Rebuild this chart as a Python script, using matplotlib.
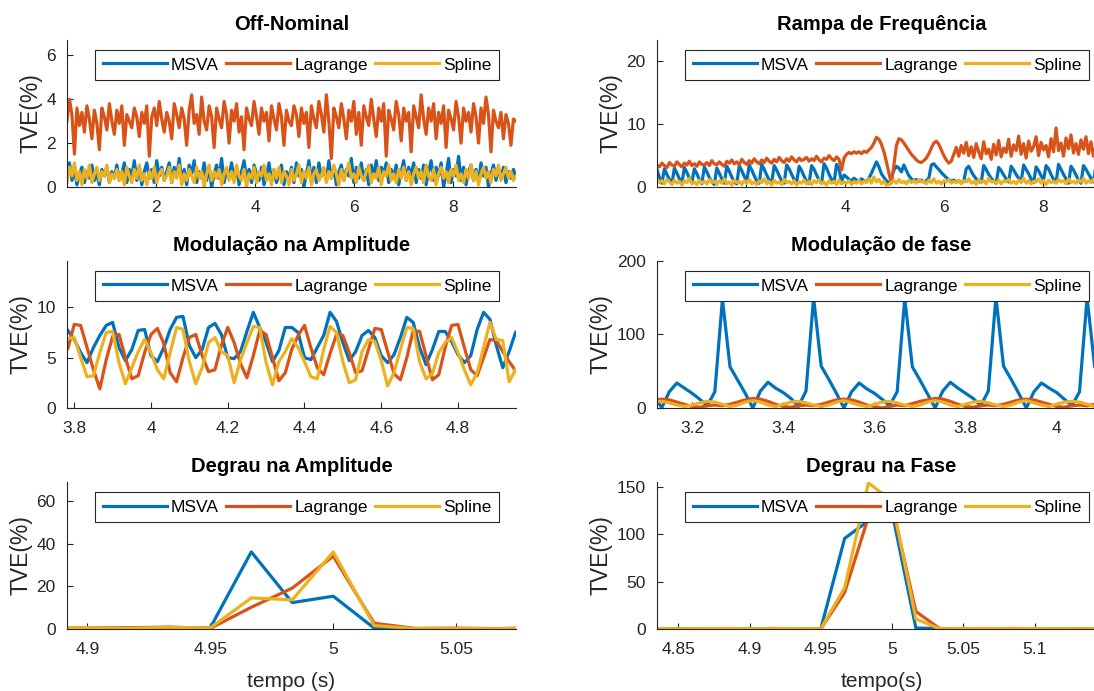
import numpy as np
import matplotlib
matplotlib.use('Agg')
import matplotlib.pyplot as plt
from matplotlib.ticker import FuncFormatter

plt.rcParams['font.family'] = ['Liberation Sans', 'DejaVu Sans']

# cores padrao do MATLAB
c_msva = '#0072BD'
c_lagr = '#D95319'
c_spl = '#EDB120'
names = ['MSVA', 'Lagrange', 'Spline']

# ---------------- Off-Nominal (0.2 .. 9.27 s) ----------------
on_t0, on_t1 = 0.2, 9.27
lagr_on = [3.0, 4.0, 3.3, 1.5, 3.6, 2.8, 3.4, 2.5, 3.7, 3.1, 2.2, 3.5, 2.9, 1.7, 3.6, 3.2, 2.6, 3.8, 3.0, 2.4,
           3.5, 2.9, 3.7, 1.9, 3.3, 3.0, 2.7, 3.6, 3.2, 2.3, 3.4, 2.9, 3.7, 1.4, 3.2, 3.6, 2.8, 3.9, 3.1, 2.5,
           3.4, 3.0, 2.2, 3.8, 3.3, 2.7, 3.6, 3.1, 1.9, 3.5, 4.2, 2.9, 3.3, 2.4, 4.1, 3.0, 2.6, 3.7, 3.2, 1.8,
           3.6, 3.1, 2.7, 3.9, 3.3, 2.0, 3.5, 3.0, 3.8, 2.5, 3.2, 1.7, 3.6, 3.1, 2.8, 3.9, 3.2, 2.4, 3.6, 3.0,
           3.4, 2.1, 3.7, 3.1, 2.6, 3.8, 3.2, 1.9, 3.5, 3.0, 2.8, 3.7, 3.3, 2.3, 3.6, 2.9, 3.4, 1.8, 3.7, 3.1,
           2.7, 3.9, 3.3, 2.5, 4.2, 3.0, 1.3, 3.6, 3.2, 2.7, 3.8, 3.1, 2.2, 3.5, 3.0, 3.9, 2.4, 3.4, 1.9, 3.7,
           3.2, 2.8, 4.0, 3.1, 2.3, 3.6, 3.0, 3.8, 1.4, 3.5, 3.1, 2.6, 3.9, 3.3, 2.1, 3.6, 3.0, 3.4, 1.6, 3.7,
           3.2, 2.7, 4.2, 3.1, 2.4, 3.6, 3.0, 3.8, 2.2, 3.4, 2.9, 3.7, 1.8, 3.5, 3.1, 2.6, 3.9, 3.2, 2.0, 3.6,
           3.0, 3.4, 2.5, 3.8, 3.2, 2.0, 3.6, 2.9, 4.1, 3.3, 1.6, 3.5, 3.0, 2.7, 3.4, 2.2, 3.3, 2.9, 1.9, 3.1, 3.0]
msva_on = [0.4, 1.1, 0.3, 0.8, 0.1, 0.6, 0.9, 0.2, 0.7, 0.4, 1.0, 0.3, 0.6, 0.1, 0.8, 0.5, 0.9, 0.2, 0.7, 0.4,
           1.0, 0.3, 0.6, 1.1, 0.2, 0.8, 0.5, 1.2, 0.3, 0.9, 0.1, 0.7, 1.1, 0.4, 0.8, 0.2, 1.2, 0.5, 0.9, 0.3,
           0.7, 1.1, 0.2, 0.9, 0.5, 1.3, 0.3, 0.8, 0.1, 1.0, 0.6, 1.2, 0.2, 0.7, 0.4, 1.1, 0.3, 0.9, 0.0, 0.6,
           1.0, 0.4, 1.3, 0.2, 0.8, 0.5, 1.1, 0.3, 0.9, 0.1, 0.7, 1.2, 0.4, 0.8, 0.2, 1.0, 0.6, 0.3, 0.9, 0.1,
           0.5, 1.1, 0.3, 0.8, 0.2, 0.6, 1.0, 0.1, 0.7, 0.4, 0.9, 0.2, 1.1, 0.5, 0.8, 0.0, 0.6, 1.2, 0.3, 0.9,
           0.2, 1.1, 0.5, 0.8, 0.3, 1.2, 0.4, 0.9, 0.1, 0.7, 1.0, 0.3, 0.8, 0.5, 1.3, 0.2, 0.9, 0.4, 1.1, 0.3,
           0.8, 0.1, 1.0, 0.5, 1.2, 0.3, 0.9, 0.6, 1.1, 0.2, 0.8, 0.4, 1.0, 0.1, 0.7, 1.2, 0.3, 0.9, 0.5, 1.1,
           0.2, 0.8, 0.4, 1.0, 0.1, 0.7, 1.2, 0.3, 0.9, 0.5, 1.1, 0.0, 0.6, 1.3, 0.2, 0.8, 0.5, 1.4, 0.3, 0.9,
           0.1, 0.7, 1.0, 0.3, 0.8, 0.2, 1.1, 0.5, 0.9, 0.0, 0.6, 1.0, 0.3, 0.8, 0.4, 0.9, 0.2, 0.7, 0.4, 0.8, 0.5]
spl_on = [0.2, 0.9, 0.5, 1.1, 0.3, 0.7, 0.1, 0.8, 0.4, 1.0, 0.2, 0.6, 0.9, 0.3, 0.7, 0.5, 1.0, 0.2, 0.6, 0.4,
          0.8, 0.3, 0.7, 0.1, 0.9, 0.5, 0.2, 0.8, 0.4, 1.0, 0.3, 0.6, 0.1, 0.7, 0.4, 0.9, 0.2, 0.6, 0.8, 0.3,
          0.5, 0.9, 0.2, 0.7, 0.4, 1.0, 0.1, 0.6, 0.3, 0.8, 0.5, 0.2, 0.9, 0.4, 0.7, 0.0, 0.6, 1.0, 0.3, 0.7,
          0.4, 0.8, 0.1, 0.6, 0.9, 0.3, 0.7, 0.2, 1.0, 0.5, 0.3, 0.8, 0.0, 0.6, 0.4, 0.9, 0.2, 0.7, 0.5, 1.0,
          0.3, 0.6, 0.1, 0.8, 0.4, 0.9, 0.2, 0.7, 0.5, 0.1, 0.8, 0.3, 0.6, 1.0, 0.2, 0.7, 0.4, 0.9, 0.1, 0.6,
          0.8, 0.3, 0.5, 0.9, 0.2, 0.7, 0.4, 1.0, 0.6, 0.1, 0.8, 0.3, 0.7, 1.1, 0.4, 0.6, 0.2, 0.9, 0.5, 0.3,
          0.7, 1.0, 0.2, 0.6, 0.4, 0.9, 0.1, 0.7, 0.5, 1.0, 0.3, 0.6, 0.2, 0.8, 0.4, 0.9, 0.3, 0.7, 0.1, 0.6,
          0.9, 0.4, 0.7, 0.2, 1.0, 0.5, 0.3, 0.8, 0.1, 0.6, 0.9, 0.4, 0.7, 0.2, 0.8, 0.5, 1.0, 0.3, 0.6, 0.2,
          0.8, 0.4, 1.0, 0.3, 0.7, 0.1, 0.6, 0.9, 0.4, 0.7, 0.2, 0.8, 0.5, 1.0, 0.3, 0.6, 0.9, 0.4, 0.7, 0.3, 0.5]

# ---------------- Rampa de Frequencia ----------------
lagr_rf = [3.5, 3.2, 3.8, 3.4, 3.1, 3.9, 3.5, 3.3, 4.0, 3.6, 3.2, 3.8, 3.5, 4.1, 3.4, 3.7, 3.3, 4.0, 3.6, 3.5,
           3.9, 3.4, 4.2, 3.7, 3.5, 4.0, 3.6, 3.3, 4.1, 3.8, 4.3, 3.7, 4.0, 3.5, 4.4, 3.9, 3.6, 4.2, 3.8, 4.5,
           4.0, 3.7, 4.3, 3.9, 4.6, 4.1, 3.8, 4.4, 4.0, 4.7, 4.2, 3.9, 4.5, 4.1, 4.8, 4.3, 4.0, 4.6, 4.2, 4.4,
           4.7, 4.1, 4.5, 4.2, 4.9, 4.3, 4.0, 4.6, 4.4, 5.0, 4.5, 4.2, 4.8, 4.4, 2.7, 4.6, 5.2, 5.5, 5.3, 5.6,
           5.4, 5.6, 5.3, 5.7, 5.5, 5.9, 6.3, 7.0, 7.9, 7.6, 6.8, 5.6, 4.0, 2.2, 0.6, 3.5, 6.6, 7.7, 7.5, 7.0,
           6.4, 5.8, 5.2, 4.8, 4.3, 4.0, 3.9, 4.2, 4.6, 5.3, 6.2, 7.0, 7.3, 6.8, 5.9, 5.0, 4.3, 3.8, 4.1, 5.2,
           6.3, 4.9, 6.6, 5.4, 7.1, 5.0, 6.4, 4.7, 6.9, 5.6, 4.5, 7.2, 5.3, 6.0, 4.4, 6.8, 5.1, 7.4, 4.8, 6.2,
           5.5, 7.6, 4.9, 6.7, 5.8, 8.1, 5.2, 6.9, 4.6, 7.3, 5.7, 6.4, 8.0, 5.0, 7.1, 5.9, 6.6, 4.8, 7.7, 5.6,
           9.4, 5.8, 7.0, 4.9, 7.8, 6.1, 8.3, 5.4, 6.9, 5.2, 7.5, 6.0, 8.0, 5.3, 7.2, 4.9, 6.5, 7.9, 5.8, 6.8, 6.0]
msva_rf = [2.8, 1.5, 0.6, 2.9, 2.0, 1.2, 0.5, 3.0, 2.2, 1.3, 0.6, 3.1, 2.3, 1.4, 0.7, 2.9, 2.1, 1.2, 0.5, 3.2,
           2.4, 1.5, 0.8, 0.4, 3.0, 2.2, 1.3, 0.6, 3.3, 2.5, 1.6, 0.8, 0.5, 3.4, 2.6, 1.7, 0.9, 3.5, 2.7, 1.8,
           1.0, 0.6, 3.6, 2.8, 1.9, 1.1, 0.7, 3.4, 2.7, 1.8, 1.0, 0.6, 3.5, 2.9, 2.0, 1.2, 0.7, 3.3, 2.6, 1.7,
           0.9, 0.6, 3.4, 2.8, 1.9, 1.1, 0.6, 3.7, 3.0, 2.0, 1.2, 0.7, 3.6, 2.8, 0.9, 1.9, 1.6, 1.2, 1.0, 1.4,
           1.1, 0.9, 1.3, 1.0, 0.8, 1.4, 2.2, 3.1, 4.0, 3.2, 2.1, 1.5, 1.0, 0.4, 1.5, 2.7, 3.3, 3.0, 2.4, 3.5,
           2.6, 1.8, 1.3, 1.0, 1.2, 0.9, 1.1, 0.8, 1.0, 1.4, 3.5, 3.7, 3.2, 2.8, 2.3, 1.9, 1.5, 1.2, 0.9, 1.1,
           0.8, 1.0, 0.7, 0.9, 2.9, 3.3, 2.5, 1.8, 1.3, 0.9, 0.7, 3.4, 2.8, 2.0, 1.4, 0.9, 0.6, 3.1, 2.6, 1.9,
           1.3, 0.8, 3.3, 2.7, 2.0, 1.4, 0.8, 3.5, 2.8, 2.1, 1.3, 0.7, 3.2, 2.6, 1.8, 1.1, 3.4, 2.9, 2.0, 1.2,
           0.7, 3.6, 2.8, 2.0, 1.3, 0.6, 3.3, 2.7, 1.9, 1.1, 0.6, 3.4, 2.8, 2.1, 1.4, 0.8, 3.5, 2.9, 2.0, 1.2, 0.7]
spl_rf = [1.3, 0.7, 1.0, 0.5, 1.2, 0.8, 0.4, 1.1, 0.6, 0.9, 0.3, 1.0, 0.7, 1.4, 0.5, 0.8, 0.4, 1.1, 0.6, 0.9,
          0.5, 1.2, 0.7, 0.9, 0.4, 1.0, 0.6, 1.3, 0.5, 0.8, 0.3, 1.1, 0.7, 0.9, 0.4, 1.0, 0.6, 1.2, 0.5, 0.8,
          0.4, 1.0, 0.7, 1.3, 0.5, 0.9, 0.3, 1.1, 0.6, 0.8, 0.4, 1.2, 0.7, 0.9, 0.5, 1.0, 0.3, 0.8, 0.6, 1.1,
          0.5, 0.9, 0.4, 1.0, 0.7, 1.2, 0.5, 0.8, 0.3, 1.0, 0.6, 0.9, 0.4, 1.1, 0.5, 0.8, 0.6, 1.0, 0.4, 0.9,
          0.6, 1.1, 0.5, 0.9, 0.7, 1.3, 0.6, 1.6, 0.8, 1.2, 0.5, 0.9, 0.3, 0.4, 0.8, 1.0, 0.6, 1.2, 0.7, 0.9,
          0.5, 1.1, 0.7, 1.0, 0.6, 1.2, 0.8, 0.9, 0.5, 1.1, 0.7, 1.3, 0.6, 0.9, 0.5, 1.0, 0.8, 1.2, 0.6, 0.9,
          0.7, 1.1, 0.5, 1.0, 0.8, 1.3, 0.6, 0.9, 0.4, 1.2, 0.7, 1.0, 0.5, 1.4, 0.8, 0.9, 0.6, 1.1, 0.5, 1.0,
          0.8, 1.2, 0.6, 0.9, 0.5, 1.1, 0.7, 1.4, 0.6, 1.0, 0.5, 0.9, 0.8, 1.3, 0.6, 1.0, 0.4, 1.1, 0.7, 0.9,
          0.6, 1.2, 0.8, 1.0, 0.5, 1.3, 0.7, 0.9, 0.6, 1.1, 0.8, 1.4, 0.6, 1.0, 0.7, 1.2, 0.5, 0.9, 0.8, 1.1, 0.7]

# ---------------- Modulacao na Amplitude (amostras k/60, k = 227..297) ----------------
ma_k0 = 227
msva_ma = [7.7, 6.8, 5.5, 4.5, 6.0, 7.2, 8.2, 8.5, 6.0, 4.7, 5.8, 7.7, 7.8, 5.2, 4.6, 6.0, 7.8, 9.0, 9.1, 6.2,
           5.0, 5.8, 8.0, 8.4, 7.3, 5.0, 4.9, 5.6, 7.6, 9.5, 8.0, 6.5, 4.6, 5.7, 8.0, 8.0, 7.5, 5.0, 4.8, 6.0,
           7.2, 9.5, 8.6, 6.5, 4.7, 5.6, 7.2, 7.7, 7.0, 5.2, 4.5, 5.3, 7.0, 9.0, 8.5, 6.0, 4.3, 5.8, 7.6, 7.6,
           6.6, 5.3, 4.5, 5.2, 7.8, 9.5, 8.8, 6.2, 4.0, 5.6, 7.5]
lagr_ma = [5.9, 8.3, 8.2, 6.0, 3.8, 1.9, 4.8, 7.1, 7.3, 5.0, 2.9, 3.2, 5.5, 7.3, 7.9, 6.4, 3.5, 2.6, 5.0, 7.0,
           7.3, 5.2, 3.6, 3.8, 6.2, 8.0, 6.5, 4.4, 3.0, 5.2, 7.7, 7.3, 5.0, 2.7, 3.5, 5.8, 7.2, 8.2, 6.0, 4.0,
           3.3, 5.4, 7.3, 7.2, 5.5, 3.5, 3.7, 5.8, 7.9, 7.8, 5.6, 3.4, 2.8, 5.0, 7.7, 7.6, 5.2, 2.8, 3.3, 6.0,
           8.2, 8.3, 6.0, 3.8, 3.2, 5.0, 6.8, 6.7, 5.6, 4.6, 3.7]
spl_ma = [6.9, 7.0, 5.0, 3.1, 3.2, 5.5, 7.5, 7.6, 4.5, 2.4, 4.0, 5.6, 6.8, 5.5, 3.8, 2.9, 5.5, 8.0, 7.8, 4.6,
          2.4, 4.0, 6.5, 7.0, 5.6, 5.2, 2.5, 4.8, 6.5, 8.1, 8.0, 4.5, 2.3, 4.6, 5.6, 6.9, 6.0, 4.6, 3.1, 2.9,
          5.8, 8.1, 7.5, 4.6, 2.5, 2.8, 5.6, 6.8, 6.6, 4.7, 2.2, 3.5, 5.8, 8.0, 7.9, 4.6, 2.9, 3.4, 5.5, 6.5,
          7.0, 5.5, 3.8, 2.3, 3.5, 6.0, 8.5, 6.8, 6.7, 2.6, 3.8]

# ---------------- Modulacao de fase (k = 187..247) ----------------
mf_k0 = 187
msva_mf = [18, 0, 22, 34, 27, 20, 12, 3, 22, 148, 56, 38, 20,
           0, 23, 35, 27, 21, 13, 2, 23, 150, 57, 39, 20,
           0, 22, 34, 26, 20, 12, 3, 22, 149, 56, 38, 19,
           0, 23, 35, 27, 20, 13, 3, 23, 151, 57, 39, 20,
           0, 22, 34, 27, 21, 12, 3, 22, 150, 56, 40, 24]
lagr_mf = [11, 12, 11, 8, 5, 2, 1, 3, 4, 3, 5, 8, 11,
           13, 12, 9, 5, 2, 1, 3, 4, 3, 5, 8, 11,
           12, 11, 8, 4, 2, 0, 2, 4, 3, 6, 9, 11,
           13, 12, 9, 5, 2, 1, 3, 4, 3, 5, 8, 11,
           12, 11, 8, 5, 2, 1, 3, 4, 3, 5, 8, 10]
spl_mf = [8, 9, 7, 4, 2, 4, 7, 9, 8, 5, 2, 4, 8,
          10, 8, 4, 2, 5, 8, 9, 7, 4, 2, 4, 8,
          10, 7, 4, 2, 5, 8, 9, 7, 4, 2, 4, 8,
          10, 8, 4, 2, 5, 8, 9, 7, 4, 2, 4, 8,
          10, 7, 4, 2, 5, 8, 9, 8, 5, 2, 4, 7]

# ---------------- Degrau na Amplitude (k = 293..305) ----------------
da_k0 = 293
msva_da = [0.6, 0.5, 0.4, 0.5, 0.6, 36.2, 12.4, 15.4, 0.4, 0.1, 0.2, 0.1, 0.2]
lagr_da = [0.5, 0.4, 0.6, 0.9, 0.3, 10.2, 19.2, 34.2, 2.7, 0.3, 0.4, 0.2, 0.5]
spl_da = [0.7, 0.6, 0.3, 0.8, 0.5, 14.6, 13.7, 36.2, 1.6, 0.2, 0.3, 0.1, 0.6]

# ---------------- Degrau na Fase (k = 290..309) ----------------
df_k0 = 290
msva_df = [0.3, 0.2, 0.4, 0.3, 0.1, 0.5, 0.2, 0.4, 95.5, 114, 123, 1.0, 0.6, 0.3, 0.2, 0.4, 0.3, 0.2, 0.4, 0.3]
lagr_df = [0.4, 0.3, 0.5, 0.4, 0.2, 0.6, 0.3, 0.2, 38.5, 118, 130, 18.5, 0.4, 0.5, 0.3, 0.6, 0.4, 0.3, 0.5, 0.4]
spl_df = [0.5, 0.3, 0.4, 0.6, 0.3, 0.4, 0.5, 0.3, 43.7, 154, 135, 10.5, 0.3, 0.4, 0.6, 0.3, 0.5, 0.4, 0.3, 0.5]

fs = 60.0  # taxa de reporte

# eixos / ticks
panels = [
    dict(title='Off-Nominal', t=np.linspace(on_t0, on_t1, len(lagr_on)), y=(msva_on, lagr_on, spl_on),
         xlim=(0.2, 9.27), ylim=(0, 6.7), xt=[2, 4, 6, 8], yt=[0, 2, 4, 6], xl=None),
    dict(title='Rampa de Frequência', t=np.linspace(on_t0, on_t1, len(lagr_rf)), y=(msva_rf, lagr_rf, spl_rf),
         xlim=(0.2, 9.27), ylim=(0, 23.4), xt=[2, 4, 6, 8], yt=[0, 10, 20], xl=None),
    dict(title='Modulação na Amplitude', t=(ma_k0 + np.arange(len(msva_ma))) / fs, y=(msva_ma, lagr_ma, spl_ma),
         xlim=(3.781, 4.951), ylim=(0, 14.6), xt=[3.8, 4.0, 4.2, 4.4, 4.6, 4.8], yt=[0, 5, 10], xl=None),
    dict(title='Modulação de fase', t=(mf_k0 + np.arange(len(msva_mf))) / fs, y=(msva_mf, lagr_mf, spl_mf),
         xlim=(3.123, 4.108), ylim=(0, 200), xt=[3.2, 3.4, 3.6, 3.8, 4.0], yt=[0, 100, 200], xl=None),
    dict(title='Degrau na Amplitude', t=(da_k0 + np.arange(len(msva_da))) / fs, y=(msva_da, lagr_da, spl_da),
         xlim=(4.8917, 5.0743), ylim=(0, 69), xt=[4.9, 4.95, 5.0, 5.05], yt=[0, 20, 40, 60], xl='tempo (s)'),
    dict(title='Degrau na Fase', t=(df_k0 + np.arange(len(msva_df))) / fs, y=(msva_df, lagr_df, spl_df),
         xlim=(4.835, 5.15), ylim=(0, 155), xt=[4.85, 4.9, 4.95, 5.0, 5.05, 5.1], yt=[0, 50, 100, 150],
         xl='tempo(s)'),
]

fig = plt.figure(figsize=(10.94, 6.91), dpi=100)
ax_col = '#262626'
lefts = [0.0612, 0.6005]
bottoms = [0.7294, 0.4096, 0.0897]
w, h = 0.4104, 0.2127

for i, p in enumerate(panels):
    ax = fig.add_axes([lefts[i % 2], bottoms[i // 2], w, h])
    for yy, col, nm in zip(p['y'], (c_msva, c_lagr, c_spl), names):
        ax.plot(p['t'], yy, color=col, lw=2.3, label=nm)
    ax.set_xlim(p['xlim'])
    ax.set_ylim(p['ylim'])
    ax.set_xticks(p['xt'])
    ax.set_yticks(p['yt'])
    ax.xaxis.set_major_formatter(FuncFormatter(lambda v, pos: '%g' % v))
    ax.yaxis.set_major_formatter(FuncFormatter(lambda v, pos: '%g' % v))
    for s in ('top', 'right'):
        ax.spines[s].set_visible(False)
    for s in ('left', 'bottom'):
        ax.spines[s].set_color(ax_col)
        ax.spines[s].set_linewidth(0.8)
    ax.tick_params(direction='in', length=4, width=0.8, colors=ax_col, labelsize=12.5)
    ax.tick_params(axis='x', pad=9.5)
    ax.tick_params(axis='y', pad=8)
    ax.set_title(p['title'], fontsize=14.5, fontweight='bold', pad=7)
    ax.set_ylabel('TVE(%)', fontsize=16.5, color=ax_col, labelpad=3)
    if p['xl']:
        ax.set_xlabel(p['xl'], fontsize=15, color=ax_col, labelpad=11)
    leg = ax.legend(loc='center', bbox_to_anchor=(0.063, 0.73, 0.9, 0.2), mode='expand', ncol=3,
                    fontsize=12.5, handlelength=3.7, handletextpad=0.25, borderpad=0.42,
                    borderaxespad=0, fancybox=False, framealpha=1, edgecolor=ax_col)
    leg.get_frame().set_linewidth(0.8)

fig.savefig('out.png', dpi=100)
